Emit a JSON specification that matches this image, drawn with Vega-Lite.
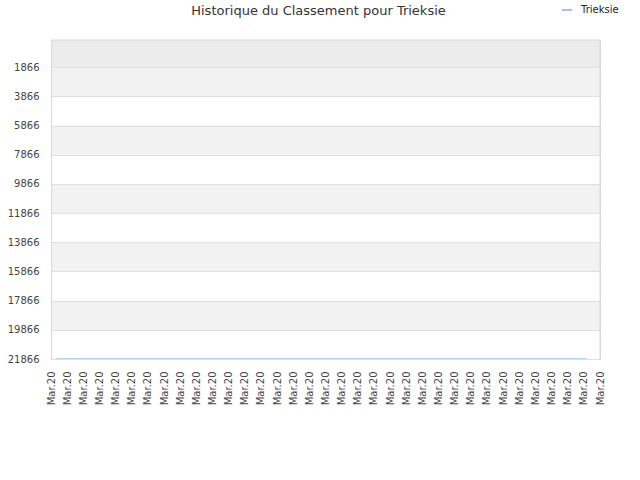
{
  "$schema": "https://vega.github.io/schema/vega-lite/v6.json",
  "autosize": "none",
  "width": 549,
  "height": 319,
  "padding": {"left": 51, "top": 40, "right": 40, "bottom": 121},
  "background": "white",
  "title": {
    "text": "Historique du Classement pour Trieksie",
    "font": "DejaVu Sans",
    "fontSize": 13,
    "fontWeight": "normal",
    "color": "#333333",
    "anchor": "middle",
    "dx": -7,
    "offset": 0,
    "dy": 14
  },
  "config": {
    "view": {"stroke": "#d9d9d9", "strokeWidth": 1},
    "font": "DejaVu Sans",
    "axisY": {
      "title": null,
      "tickCount": 50,
      "labelFontSize": 10,
      "labelColor": "#444444",
      "labelPadding": 12,
      "labelOverlap": false,
      "labelBound": false,
      "labelFlush": false,
      "ticks": false,
      "domain": true,
      "domainColor": "#d9d9d9",
      "grid": true,
      "gridColor": "#e0e0e0",
      "gridWidth": 1,
      "zindex": 1
    },
    "axisX": {
      "title": null,
      "tickCount": 50,
      "labelFontSize": 10,
      "labelColor": "#444444",
      "labelPadding": 12,
      "labelOverlap": false,
      "labelBound": false,
      "labelFlush": false,
      "ticks": false,
      "domain": true,
      "domainColor": "#d9d9d9",
      "grid": false,
      "zindex": 1
    }
  },
  "layer": [
    {
      "data": {"values": [{"lo": 0, "hi": 1866}]},
      "mark": {"type": "rect", "color": "#ececec"},
      "encoding": {
        "y": {
          "field": "lo", "type": "quantitative",
          "scale": {"domain": [0, 21866], "reverse": true, "nice": false, "zero": false},
          "axis": {
            "values": [1866, 3866, 5866, 7866, 9866, 11866, 13866, 15866, 17866, 19866, 21866],
            "format": "d",
            "tickCount": 50,
            "labelOverlap": false,
            "zindex": 1
          }
        },
        "y2": {"field": "hi"}
      }
    },
    {
      "data": {"values": [
        {"lo": 1866, "hi": 3866},
        {"lo": 5866, "hi": 7866},
        {"lo": 9866, "hi": 11866},
        {"lo": 13866, "hi": 15866},
        {"lo": 17866, "hi": 19866}
      ]},
      "mark": {"type": "rect", "color": "#f2f2f2"},
      "encoding": {
        "y": {"field": "lo", "type": "quantitative"},
        "y2": {"field": "hi"}
      }
    },
    {
      "data": {"values": [{"lo": 0}]},
      "mark": {"type": "rule", "color": "#d9d9d9", "strokeWidth": 1},
      "encoding": {
        "y": {"field": "lo", "type": "quantitative"}
      }
    },
    {
      "data": {"values": [{"idx": 34}]},
      "mark": {"type": "rule", "color": "#d9d9d9", "strokeWidth": 1},
      "encoding": {
        "x": {"field": "idx", "type": "quantitative"}
      }
    },
    {
      "data": {"values": [
        {"idx": 0.3, "rank": 21866, "player": "Trieksie"},
        {"idx": 1.3, "rank": 21866, "player": "Trieksie"},
        {"idx": 2.3, "rank": 21866, "player": "Trieksie"},
        {"idx": 3.3, "rank": 21866, "player": "Trieksie"},
        {"idx": 4.3, "rank": 21866, "player": "Trieksie"},
        {"idx": 5.3, "rank": 21866, "player": "Trieksie"},
        {"idx": 6.3, "rank": 21866, "player": "Trieksie"},
        {"idx": 7.3, "rank": 21866, "player": "Trieksie"},
        {"idx": 8.3, "rank": 21866, "player": "Trieksie"},
        {"idx": 9.3, "rank": 21866, "player": "Trieksie"},
        {"idx": 10.3, "rank": 21866, "player": "Trieksie"},
        {"idx": 11.3, "rank": 21866, "player": "Trieksie"},
        {"idx": 12.3, "rank": 21866, "player": "Trieksie"},
        {"idx": 13.3, "rank": 21866, "player": "Trieksie"},
        {"idx": 14.3, "rank": 21866, "player": "Trieksie"},
        {"idx": 15.3, "rank": 21866, "player": "Trieksie"},
        {"idx": 16.3, "rank": 21866, "player": "Trieksie"},
        {"idx": 17.3, "rank": 21866, "player": "Trieksie"},
        {"idx": 18.3, "rank": 21866, "player": "Trieksie"},
        {"idx": 19.3, "rank": 21866, "player": "Trieksie"},
        {"idx": 20.3, "rank": 21866, "player": "Trieksie"},
        {"idx": 21.3, "rank": 21866, "player": "Trieksie"},
        {"idx": 22.3, "rank": 21866, "player": "Trieksie"},
        {"idx": 23.3, "rank": 21866, "player": "Trieksie"},
        {"idx": 24.3, "rank": 21866, "player": "Trieksie"},
        {"idx": 25.3, "rank": 21866, "player": "Trieksie"},
        {"idx": 26.3, "rank": 21866, "player": "Trieksie"},
        {"idx": 27.3, "rank": 21866, "player": "Trieksie"},
        {"idx": 28.3, "rank": 21866, "player": "Trieksie"},
        {"idx": 29.3, "rank": 21866, "player": "Trieksie"},
        {"idx": 30.3, "rank": 21866, "player": "Trieksie"},
        {"idx": 31.3, "rank": 21866, "player": "Trieksie"},
        {"idx": 32.3, "rank": 21866, "player": "Trieksie"},
        {"idx": 33.2, "rank": 21866, "player": "Trieksie"}
      ]},
      "mark": {"type": "line", "strokeWidth": 1.5},
      "encoding": {
        "x": {
          "field": "idx", "type": "quantitative",
          "scale": {"domain": [0, 34], "nice": false, "zero": false},
          "axis": {
            "values": [0,1,2,3,4,5,6,7,8,9,10,11,12,13,14,15,16,17,18,19,20,21,22,23,24,25,26,27,28,29,30,31,32,33,34],
            "labelExpr": "'Mar.20'",
            "tickCount": 50,
            "labelAngle": -90
          }
        },
        "y": {"field": "rank", "type": "quantitative"},
        "color": {
          "field": "player", "type": "nominal",
          "scale": {"range": ["#9ec5ec"]},
          "legend": {
            "title": null,
            "orient": "none",
            "legendX": 510,
            "legendY": -36,
            "symbolType": "stroke",
            "symbolStrokeWidth": 2,
            "symbolSize": 100,
            "labelFontSize": 10,
            "labelColor": "#222222",
            "labelOffset": 8
          }
        }
      }
    }
  ]
}
